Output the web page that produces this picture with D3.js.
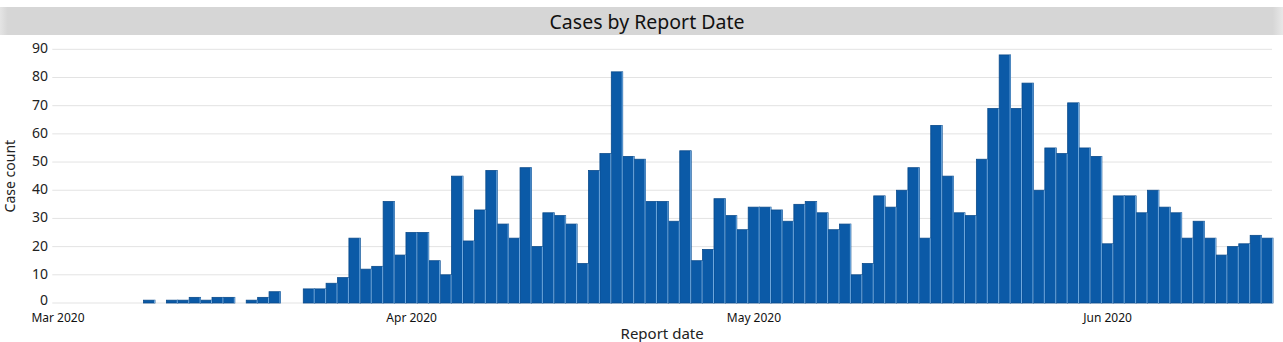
<!DOCTYPE html>
<html>
<head>
<meta charset="utf-8">
<script src="https://cdn.jsdelivr.net/npm/d3@7"></script>
<style>
  html, body { margin: 0; padding: 0; background: #fff; }
  svg { display: block; font-family: "Noto Sans", "Open Sans", sans-serif; }
</style>
</head>
<body>
<svg id="chart" width="1283" height="342"></svg>
<script>
// ---- data ----
const startDate = "2020-03-01";
const endDate = "2020-06-16"; // exclusive
const caseCounts = [
  0, 0, 0, 0, 0, 0, 0, 0, 1, 0, 1, 1, 2, 1, 2, 2, 0, 1, 2, 4, 0, 0, 5, 5, 7, 9, 23, 12, 13, 36, 17,
  25, 25, 15, 10, 45, 22, 33, 47, 28, 23, 48, 20, 32, 31, 28, 14, 47, 53, 82, 52, 51, 36, 36, 29, 54, 15, 19, 37, 31, 26,
  34, 34, 33, 29, 35, 36, 32, 26, 28, 10, 14, 38, 34, 40, 48, 23, 63, 45, 32, 31, 51, 69, 88, 69, 78, 40, 55, 53, 71, 55, 52,
  21, 38, 38, 32, 40, 34, 32, 23, 29, 23, 17, 20, 21, 24, 23
];
const yTicks = [0, 10, 20, 30, 40, 50, 60, 70, 80, 90];
const xTickDates = ["2020-03-01", "2020-04-01", "2020-05-01", "2020-06-01"];
const titleText = "Cases by Report Date";
const xTitle = "Report date";
const yTitle = "Case count";

// ---- build ----
const parse = d3.utcParse("%Y-%m-%d");
const fmtKey = d3.utcFormat("%Y-%m-%d");
const days = d3.utcDay.range(parse(startDate), parse(endDate)).map(fmtKey);
const rows = days.map((d, i) => ({ day: d, value: caseCounts[i] }));

const svg = d3.select("#chart");
const W = 1283, H = 342;
const plot = { left: 52.3, right: 1273, top: 49.3, bottom: 303 };

// title band
const grad = svg.append("defs").append("linearGradient").attr("id", "tg")
  .attr("x1", "0").attr("x2", "1").attr("y1", "0").attr("y2", "0");
grad.append("stop").attr("offset", "0").attr("stop-color", "#e4e4e4");
grad.append("stop").attr("offset", "0.006").attr("stop-color", "#d6d6d6");
grad.append("stop").attr("offset", "0.992").attr("stop-color", "#d6d6d6");
grad.append("stop").attr("offset", "1").attr("stop-color", "#e8e8e8");
svg.append("rect").attr("x", 0).attr("y", 7).attr("width", W).attr("height", 28)
  .attr("fill", "url(#tg)");
svg.append("text").attr("x", 647).attr("y", 28.5).attr("text-anchor", "middle")
  .attr("font-size", 19.5).attr("fill", "#111").text(titleText);

const x = d3.scaleBand().domain(days).range([plot.left, plot.right]).paddingInner(0).paddingOuter(0);
const y = d3.scaleLinear().domain([0, 90]).range([plot.bottom, plot.top]);

// gridlines
svg.append("g").selectAll("line").data(yTicks).join("line")
  .attr("x1", plot.left).attr("x2", 1272)
  .attr("y1", d => y(d)).attr("y2", d => y(d))
  .attr("stroke", "#e3e3e3").attr("stroke-width", 1);

// y axis labels
const yAxis = d3.axisLeft(y).tickValues(yTicks).tickSize(0).tickPadding(0).tickFormat(d3.format("d"));
const gy = svg.append("g").attr("transform", `translate(48,-1)`).call(yAxis);
gy.select(".domain").remove();
gy.selectAll("text").attr("font-size", 14).attr("fill", "#222")
  .attr("font-family", "\"Noto Sans\", sans-serif")
  .attr("y", d => d === 0 ? -2 : 0);

// bars
svg.append("g").selectAll("rect").data(rows.filter(r => r.value > 0)).join("rect")
  .attr("x", d => x(d.day))
  .attr("y", d => y(d.value))
  .attr("width", x.bandwidth())
  .attr("height", d => y(0) - y(d.value))
  .attr("fill", "#0b5aa7")
  .attr("stroke", "#0a4a8a")
  .attr("stroke-width", 0.8);
// light separators on right edge of bars
svg.append("g").selectAll("line").data(rows.filter(r => r.value > 0)).join("line")
  .attr("x1", d => x(d.day) + x.bandwidth() - 0.5)
  .attr("x2", d => x(d.day) + x.bandwidth() - 0.5)
  .attr("y1", d => y(d.value))
  .attr("y2", y(0))
  .attr("stroke", "#6fa8de").attr("stroke-width", 1);

// x axis
const xAxis = d3.axisBottom(x).tickValues(xTickDates).tickSize(0).tickPadding(0)
  .tickFormat(d => d3.utcFormat("%b %Y")(parse(d)));
const gx = svg.append("g").attr("transform", `translate(0,313.5)`).call(xAxis);
gx.select(".domain").remove();
gx.selectAll("text").attr("font-size", 12).attr("fill", "#111")
  .attr("font-family", "\"Noto Sans\", sans-serif");

// axis titles
svg.append("text").attr("x", (plot.left + 1272) / 2).attr("y", 339)
  .attr("text-anchor", "middle").attr("font-size", 15).attr("fill", "#222").text(xTitle);
svg.append("text").attr("transform", `translate(15,${(plot.top + plot.bottom) / 2}) rotate(-90)`)
  .attr("text-anchor", "middle").attr("font-size", 14).attr("fill", "#222").text(yTitle);
</script>
</body>
</html>
